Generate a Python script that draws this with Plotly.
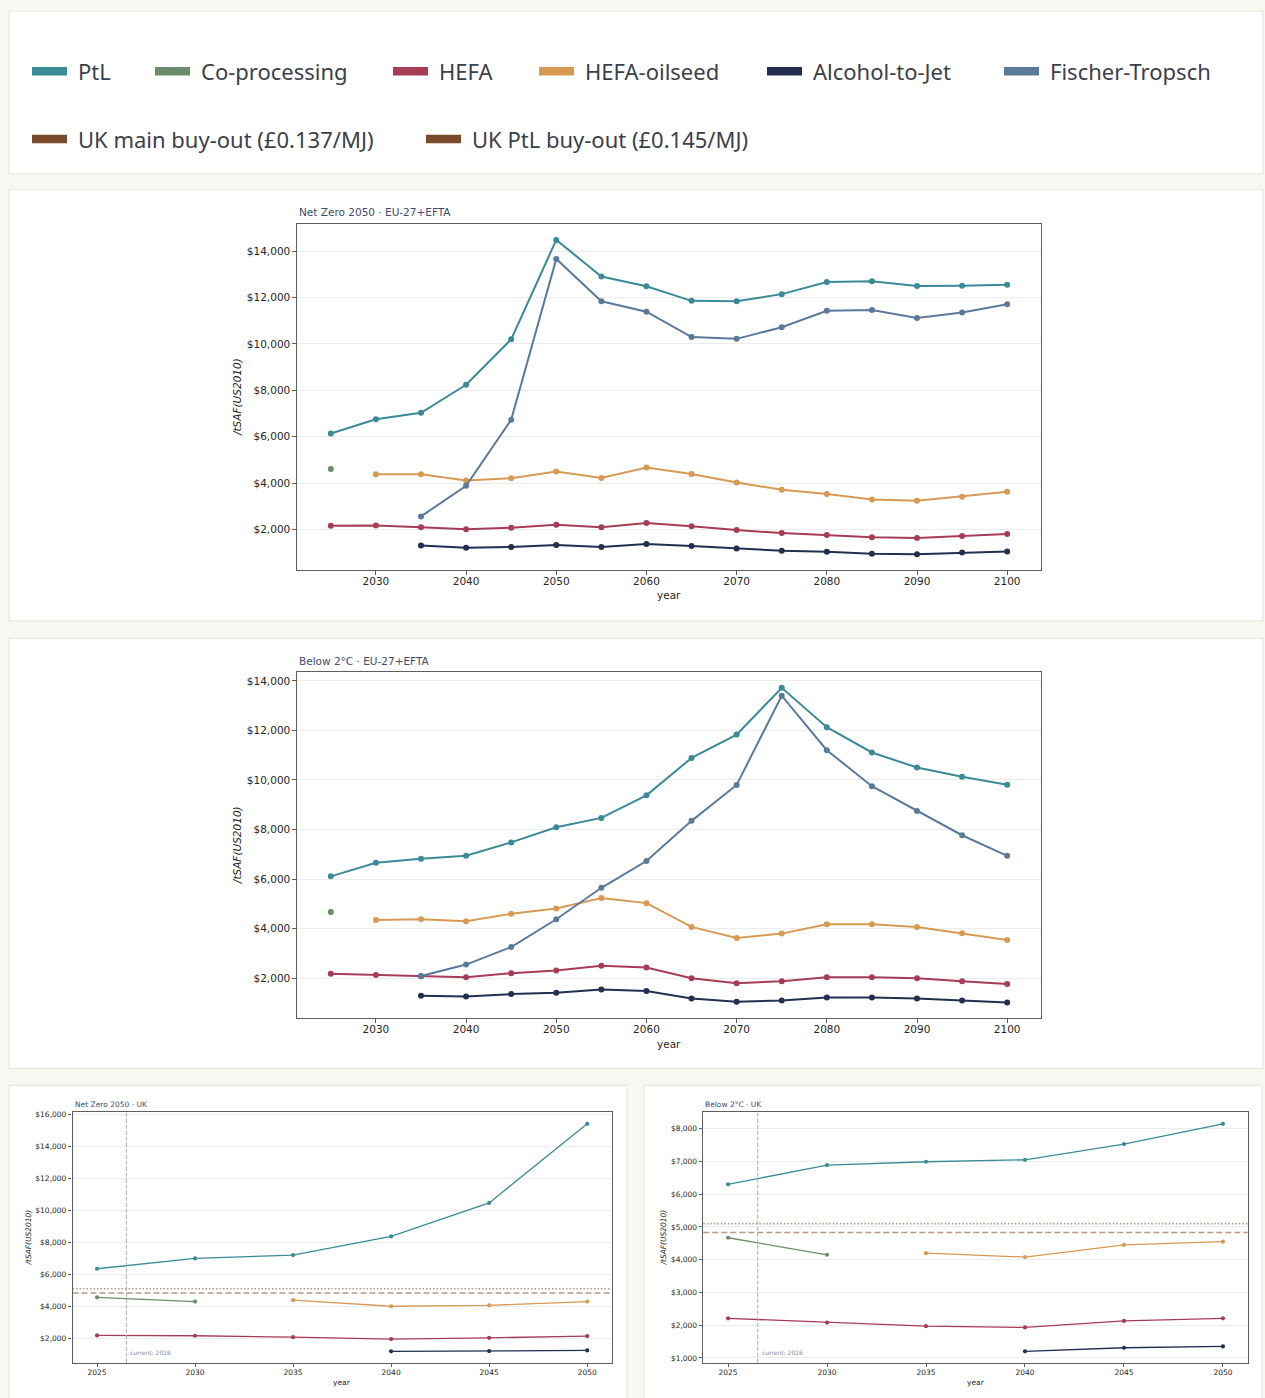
import plotly.graph_objects as go

# ---------------------------------------------------------------- data
YEARS_EU = [2025, 2030, 2035, 2040, 2045, 2050, 2055, 2060,
            2065, 2070, 2075, 2080, 2085, 2090, 2095, 2100]
YEARS_UK = [2025, 2030, 2035, 2040, 2045, 2050]

SERIES = ["PtL", "Co-processing", "HEFA", "HEFA-oilseed",
          "Alcohol-to-Jet", "Fischer-Tropsch"]
COLORS = ["#3b8b97", "#6b8c6b", "#a63d57", "#d69a55", "#232f4e", "#5b7a9a"]
BUYOUT_COLOR = "#7a4a2a"

# Net Zero 2050 - EU-27+EFTA  ($/t SAF, US$2010)
nz_eu_ptl = [6140, 6750, 7030, 8240, 10200, 14490, 12910, 12490,
             11860, 11840, 12150, 12670, 12710, 12500, 12510, 12550]
nz_eu_coproc = [4600, None, None, None, None, None, None, None,
                None, None, None, None, None, None, None, None]
nz_eu_hefa = [2160, 2170, 2090, 2000, 2070, 2200, 2090, 2270,
              2140, 1970, 1840, 1760, 1660, 1630, 1710, 1800]
nz_eu_oilseed = [None, 4380, 4380, 4110, 4210, 4500, 4220, 4670,
                 4390, 4020, 3710, 3530, 3290, 3230, 3410, 3620]
nz_eu_atj = [None, None, 1300, 1210, 1240, 1330, 1240, 1370,
             1280, 1170, 1080, 1030, 950, 930, 1000, 1050]
nz_eu_ft = [None, None, 2560, 3880, 6730, 13670, 11840, 11390,
            10300, 10220, 10720, 11430, 11460, 11120, 11360, 11710]

# Below 2°C - EU-27+EFTA
b2_eu_ptl = [6110, 6660, 6820, 6940, 7480, 8090, 8470, 9380,
             10890, 11830, 13720, 12130, 11110, 10500, 10130, 9810]
b2_eu_coproc = [4670, None, None, None, None, None, None, None,
                None, None, None, None, None, None, None, None]
b2_eu_hefa = [2180, 2130, 2080, 2040, 2200, 2310, 2500, 2430,
              2000, 1800, 1880, 2040, 2040, 2000, 1880, 1770]
b2_eu_oilseed = [None, 4350, 4380, 4300, 4600, 4810, 5240, 5030,
                 4070, 3620, 3800, 4180, 4180, 4070, 3810, 3540]
b2_eu_atj = [None, None, 1290, 1260, 1360, 1410, 1540, 1480,
             1180, 1050, 1100, 1220, 1220, 1180, 1100, 1020]
b2_eu_ft = [None, None, 2090, 2550, 3260, 4380, 5650, 6730,
            8350, 9800, 13400, 11200, 9750, 8750, 7770, 6940]

# Net Zero 2050 - UK
nz_uk_ptl = [6350, 7000, 7210, 8380, 10480, 15440]
nz_uk_coproc = [4560, 4290, None, None, None, None]
nz_uk_hefa = [2170, 2150, 2060, 1940, 2020, 2130]
nz_uk_oilseed = [None, None, 4380, 4000, 4060, 4290]
nz_uk_atj = [None, None, None, 1170, 1190, 1230]

# Below 2°C - UK
b2_uk_ptl = [6300, 6890, 6990, 7050, 7530, 8150]
b2_uk_coproc = [4670, 4150, None, None, None, None]
b2_uk_hefa = [2210, 2080, 1970, 1930, 2130, 2210]
b2_uk_oilseed = [None, None, 4200, 4080, 4450, 4550]
b2_uk_atj = [None, None, None, 1200, 1310, 1350]

# UK SAF mandate buy-out prices expressed in $/t SAF (US$2010)
BUYOUT_LABELS = ["UK main buy-out (£0.137/MJ)", "UK PtL buy-out (£0.145/MJ)"]
buyout_values = [4830, 5100]
buyout_dash = ["6px,3px", "1.5px,2px"]

CURRENT_YEAR_POS = 2026.5
CURRENT_LABEL = "current: 2026"

# ---------------------------------------------------------------- layout helpers
W, H = 1265, 1398
PAGE_BG = "#f8f8f3"
CARD_LINE = "#e7e7df"
TITLE_COLOR = "#3d4b6e"
TEXT_COLOR = "#262626"
SPINE = "#5e5e5e"
MPL_FONT = "DejaVu Sans"


def fx(px):
    return px / W


def fy(py):
    return 1 - py / H


panels = [
    dict(title="Net Zero 2050 · EU-27+EFTA", years=YEARS_EU,
         data=[nz_eu_ptl, nz_eu_coproc, nz_eu_hefa, nz_eu_oilseed, nz_eu_atj, nz_eu_ft],
         box=(297, 222.5, 1041, 568.7), ylab_x=237, year_y=594, title_y=210.5,
         xtick0=2030, xdtick=10, ydtick=2000, uk=False, big=True),
    dict(title="Below 2°C · EU-27+EFTA", years=YEARS_EU,
         data=[b2_eu_ptl, b2_eu_coproc, b2_eu_hefa, b2_eu_oilseed, b2_eu_atj, b2_eu_ft],
         box=(297, 671, 1041, 1017.7), ylab_x=237, year_y=1043, title_y=659.5,
         xtick0=2030, xdtick=10, ydtick=2000, uk=False, big=True),
    dict(title="Net Zero 2050 · UK", years=YEARS_UK,
         data=[nz_uk_ptl, nz_uk_coproc, nz_uk_hefa, nz_uk_oilseed, nz_uk_atj, None],
         box=(72.5, 1112, 611.7, 1362.7), ylab_x=29, year_y=1382, title_y=1104.5,
         xtick0=2025, xdtick=5, ydtick=2000, uk=True, big=False),
    dict(title="Below 2°C · UK", years=YEARS_UK,
         data=[b2_uk_ptl, b2_uk_coproc, b2_uk_hefa, b2_uk_oilseed, b2_uk_atj, None],
         box=(703.3, 1112, 1247.7, 1362.7), ylab_x=664, year_y=1382, title_y=1104.5,
         xtick0=2025, xdtick=5, ydtick=1000, uk=True, big=False),
]

fig = go.Figure()
shapes = []
annotations = []

# page cards
cards = [(9, 9, 1263, 172), (9, 188, 1263, 620), (9, 637, 1263, 1068),
         (9, 1085, 627, 1420), (644, 1085, 1262, 1420)]
for x0, y0, x1, y1 in cards:
    shapes.append(dict(type="rect", xref="paper", yref="paper",
                       x0=fx(x0), x1=fx(x1), y0=fy(y1), y1=fy(y0),
                       fillcolor="white", line=dict(color=CARD_LINE, width=1.2),
                       layer="below"))

# legend card: colour swatches + labels
LEG_FONT = dict(family="Noto Sans", size=22, color="#3b404b")
legend_rows = [
    [(SERIES[i], COLORS[i]) for i in range(len(SERIES))],
    [(BUYOUT_LABELS[0], BUYOUT_COLOR), (BUYOUT_LABELS[1], BUYOUT_COLOR)],
]
legend_x = [[32, 155, 393, 539, 767, 1004], [32, 426]]
legend_y = [69.5, 137.5]
for row, xs, yc in zip(legend_rows, legend_x, legend_y):
    for (label, color), x0 in zip(row, xs):
        shapes.append(dict(type="rect", xref="paper", yref="paper",
                           x0=fx(x0), x1=fx(x0 + 35), y0=fy(yc + 4), y1=fy(yc - 4.5),
                           fillcolor=color, line=dict(width=0)))
        annotations.append(dict(xref="paper", yref="paper", x=fx(x0 + 44), y=fy(yc),
                                text=label, showarrow=False, xanchor="left",
                                yanchor="middle", font=LEG_FONT))


def axis_range(values_lists):
    vals = [v for lst in values_lists if lst for v in lst if v is not None]
    lo, hi = min(vals), max(vals)
    pad = 0.05 * (hi - lo)
    return [lo - pad, hi + pad]


for i, p in enumerate(panels, start=1):
    sfx = "" if i == 1 else str(i)
    xref, yref = "x" + sfx, "y" + sfx
    left, top, right, bottom = p["box"]
    big = p["big"]
    tick_size = 10.5 if big else 7.5
    lw = 2.0 if big else 1.3
    ms = 6 if big else 4.2

    years = p["years"]
    span = years[-1] - years[0]
    xr = [years[0] - 0.05 * span, years[-1] + 0.05 * span]
    yr = axis_range(p["data"])

    for name, color, vals in zip(SERIES, COLORS, p["data"]):
        if vals is None:
            continue
        fig.add_trace(go.Scatter(
            x=years, y=vals, name=name, mode="lines+markers",
            line=dict(color=color, width=lw), marker=dict(color=color, size=ms),
            connectgaps=False, showlegend=False, xaxis=xref, yaxis=yref))

    axis_common = dict(showline=True, mirror=True, linecolor=SPINE, linewidth=1.3,
                       ticks="outside", ticklen=3.5, tickwidth=1, tickcolor=SPINE,
                       zeroline=False,
                       tickfont=dict(family=MPL_FONT, size=tick_size, color=TEXT_COLOR))
    fig.layout["xaxis" + sfx] = dict(
        domain=[fx(left), fx(right)], anchor=yref, range=xr,
        tick0=p["xtick0"], dtick=p["xdtick"], showgrid=False,
        ticklabelstandoff=-2 if big else -1, **axis_common)
    fig.layout["yaxis" + sfx] = dict(
        domain=[fy(bottom), fy(top)], anchor=xref, range=yr,
        tick0=0, dtick=p["ydtick"], tickprefix="$", tickformat=",d",
        showgrid=True, gridcolor="#ececec", gridwidth=1, **axis_common)

    # panel title, axis labels
    annotations.append(dict(xref="paper", yref="paper", x=fx(left), y=fy(p["title_y"]),
                            text=p["title"], showarrow=False, xanchor="left",
                            yanchor="middle",
                            font=dict(family=MPL_FONT, size=tick_size, color=TITLE_COLOR)))
    annotations.append(dict(xref="paper", yref="paper", x=fx(p["ylab_x"]),
                            y=fy((top + bottom) / 2), text="<i>/tSAF(US2010)</i>",
                            textangle=-90, showarrow=False, xanchor="center",
                            yanchor="middle",
                            font=dict(family=MPL_FONT, size=tick_size, color=TEXT_COLOR)))
    annotations.append(dict(xref="paper", yref="paper", x=fx((left + right) / 2),
                            y=fy(p["year_y"]), text="year", showarrow=False,
                            xanchor="center", yanchor="middle",
                            font=dict(family=MPL_FONT, size=tick_size, color=TEXT_COLOR)))

    if p["uk"]:
        for val, dash in zip(buyout_values, buyout_dash):
            shapes.append(dict(type="line", xref=xref + " domain", yref=yref,
                               x0=0, x1=1, y0=val, y1=val, opacity=0.55,
                               line=dict(color=BUYOUT_COLOR, width=1.6, dash=dash)))
        shapes.append(dict(type="line", xref=xref, yref=yref + " domain",
                           x0=CURRENT_YEAR_POS, x1=CURRENT_YEAR_POS, y0=0, y1=1,
                           line=dict(color="#aaaaaa", width=1, dash="4px,2px")))
        annotations.append(dict(xref=xref, yref="paper", x=CURRENT_YEAR_POS,
                                y=fy(1352), text=CURRENT_LABEL, showarrow=False,
                                xanchor="left", yanchor="middle", xshift=2,
                                font=dict(family=MPL_FONT, size=6, color="#8c8c8c")))

fig.update_layout(
    width=W, height=H, margin=dict(l=0, r=0, t=0, b=0),
    paper_bgcolor=PAGE_BG, plot_bgcolor="white",
    showlegend=False, shapes=shapes, annotations=annotations,
    hovermode="closest",
)

fig.write_html("out.html", config={"displayModeBar": False})
